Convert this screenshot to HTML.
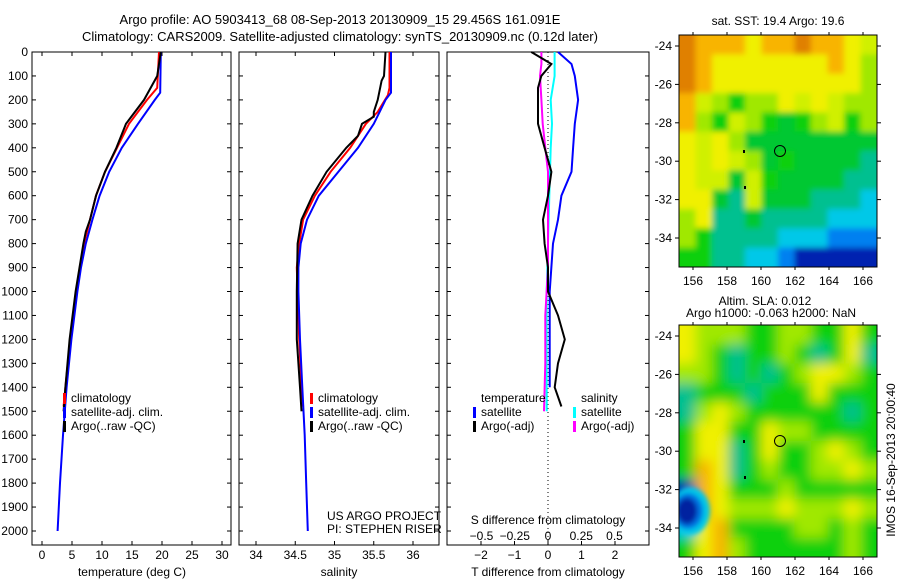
<!DOCTYPE html>
<html><head><meta charset="utf-8"><style>
body{margin:0;background:#fff;}
svg{display:block;font-family:"Liberation Sans",sans-serif;font-size:12px;}
</style></head><body>
<svg id="chart" width="900" height="580" viewBox="0 0 900 580">
<text x="340" y="24" text-anchor="middle" font-size="13">Argo profile: AO 5903413_68 08-Sep-2013 20130909_15 29.456S 161.091E</text>
<text x="340" y="41" text-anchor="middle" font-size="13">Climatology: CARS2009. Satellite-adjusted climatology: synTS_20130909.nc (0.12d later)</text>
<g id="g"></g>
</svg>
<script>
// ---- data ----
const depthTicks=[0,100,200,300,400,500,600,700,800,900,1000,1100,1200,1300,1400,1500,1600,1700,1800,1900,2000];
const tempTicks=[0,5,10,15,20,25,30];
const salTicks=[34,34.5,35,35.5,36];
const tdTicks=[-2,-1,0,1,2];
const sdTicks=[-0.5,-0.25,0,0.25,0.5];
const sdTickLabels=["-0.5","-0.25","0","0.25","0.5"];
const tClimD=[0,100,150,200,300,400,500,600,700,800,900,1000,1100,1200,1300,1400,1480];
const tClimV=[19.5,19.3,19.2,17.5,14.5,12.5,10.5,9,8,7,6.3,5.8,5.3,4.8,4.3,3.9,3.6];
const tSatD=[0,170,200,300,400,500,600,700,800,900,1000,1200,1400,1600,1800,2000];
const tSatV=[19.8,19.7,18.8,16,13.3,11.2,9.6,8.4,7.3,6.5,5.9,4.9,4.1,3.5,3.0,2.6];
const tArgoD=[0,100,200,300,400,500,600,700,750,800,1000,1200,1400,1500];
const tArgoV=[19.8,19.2,17,14,12.4,10.5,9,8,7.3,6.9,5.6,4.6,3.9,3.6];
const sClimD=[0,150,180,250,300,400,500,600,700,800,900,1000,1200,1400,1480];
const sClimV=[35.7,35.7,35.68,35.55,35.4,35.2,34.95,34.75,34.6,34.55,34.52,34.53,34.55,34.58,34.6];
const sSatD=[0,170,200,300,400,500,600,700,800,900,1000,1200,1400,1600,1800,2000];
const sSatV=[35.72,35.72,35.65,35.5,35.3,35.05,34.8,34.65,34.57,34.54,34.54,34.56,34.59,34.62,34.64,34.66];
const sArgoD=[0,100,120,200,250,270,300,350,400,500,600,700,800,1000,1200,1400,1500];
const sArgoV=[35.65,35.63,35.6,35.55,35.5,35.5,35.35,35.3,35.15,34.9,34.72,34.58,34.53,34.52,34.52,34.56,34.58];
const dTSatD=[0,50,100,200,300,400,500,600,700,800,1000,1400];
const dTSatV=[0.3,0.7,0.8,0.9,0.8,0.75,0.7,0.4,0.3,0.15,0.05,0.05];
const dTArgoD=[0,50,100,150,200,300,400,500,600,700,800,900,1000,1100,1200,1300,1400,1480];
const dTArgoV=[-0.5,0.1,-0.2,-0.3,-0.3,-0.3,-0.1,0.1,0,-0.15,-0.1,0,0,0.3,0.5,0.3,0.2,0.4];
const dSSatD=[0,100,200,300,400,600,800,1000,1500];
const dSSatV=[0.05,0.05,0.02,0.03,0.02,0.01,0,-0.01,-0.01];
const dSArgoD=[0,50,100,200,300,400,500,700,900,1100,1300,1500];
const dSArgoV=[-0.05,-0.05,-0.06,-0.05,-0.04,-0.02,0,0,0,-0.02,-0.02,-0.03];
const lonTicks=[156,158,160,162,164,166];
const latTicks=[-24,-26,-28,-30,-32,-34];
const sstGrid=["OoooYooOooYy","OoYYYYYYYoYL","OoYYYYYYYYYL","oyLGLLYyYyLL","oLGyLGgGLyGL","YyYLgggggggg","YyYyLgGggggT","YyygyGggggTT","YYgTygggTTTC","LYTTgTTTTCCC","LGTTTTCCCBBB","GGTTCCBDDDDD"];
const slaGrid=["YLLLGGLLGGYG","YLGTGGLGTGYT","LLGTGTGLYYLG","TGGGTGGGYGGG","TLYLGGGGGGTG","GYYGGYLLGGGG","GYYTGYGGLYLG","GoYTGLGGLLYL","DoYGGGLGGGGG","DoYLLLYLLLYL","CYoGGGGLLGLG","GYoLGGGGGGLG"];
// ---- helpers ----
const NS="http://www.w3.org/2000/svg",G=document.getElementById('g');
function mk(t,a,p){const e=document.createElementNS(NS,t);for(const k in a)e.setAttribute(k,a[k]);(p||G).appendChild(e);return e;}
const yD=d=>52+d*0.2395;
const xT=v=>42+v*6, xS=v=>256+(v-34)*78.5, xDT=v=>548+v*33.5, xDS=v=>548+v*133;
const panels=[[32,231],[239,439],[447,649]];
panels.forEach((p,i)=>{const r=mk('rect',{x:p[0],y:52,width:p[1]-p[0],height:493,fill:'none',stroke:'#000'});

depthTicks.forEach(d=>{mk('line',{x1:p[0],x2:p[0]+4,y1:yD(d),y2:yD(d),stroke:'#000'});mk('line',{x1:p[1],x2:p[1]-4,y1:yD(d),y2:yD(d),stroke:'#000'});});});
depthTicks.forEach(d=>{const t=mk('text',{x:28,y:yD(d)+4,'text-anchor':'end'});t.textContent=d;
});
function xax(ticks,f,labels,y,top){ticks.forEach((v,i)=>{const x=f(v);mk('line',{x1:x,x2:x,y1:545,y2:541,stroke:'#000'});if(top)mk('line',{x1:x,x2:x,y1:52,y2:56,stroke:'#000'});
const t=mk('text',{x:x,y:y,'text-anchor':'middle'});t.textContent=labels?labels[i]:String(v).replace('-','\u2212');
});}
xax(tempTicks,xT,null,559,true);xax(salTicks,xS,null,559,true);xax(tdTicks,xDT,null,559,false);
sdTicks.forEach((v,i)=>{const t=mk('text',{x:xDS(v),y:540,'text-anchor':'middle'});t.textContent=sdTickLabels[i].replace('-','\u2212');
});
[[132,'temperature (deg C)','temperature-axis-title'],[339,'salinity','salinity-axis-title'],[548,'T difference from climatology','t-diff-axis-title']].forEach(a=>{const t=mk('text',{x:a[0],y:576,'text-anchor':'middle'});t.textContent=a[1];});
mk('line',{x1:548,x2:548,y1:52,y2:545,stroke:'#000','stroke-dasharray':'1,3'});
function line(D,V,f,c,name){const pts=D.map((d,i)=>f(V[i]).toFixed(1)+','+yD(d).toFixed(1)).join(' ');
const e=mk('polyline',{points:pts,fill:'none',stroke:c,'stroke-width':2});}
line(tClimD,tClimV,xT,'#f00','temp-climatology');line(tSatD,tSatV,xT,'#00f','temp-satellite');line(tArgoD,tArgoV,xT,'#000','temp-argo');
line(sClimD,sClimV,xS,'#f00','sal-climatology');line(sSatD,sSatV,xS,'#00f','sal-satellite');line(sArgoD,sArgoV,xS,'#000','sal-argo');
line(dSSatD,dSSatV,xDS,'#0ff','sdiff-satellite');line(dSArgoD,dSArgoV,xDS,'#f0f','sdiff-argo');
line(dTSatD,dTSatV,xDT,'#00f','tdiff-satellite');line(dTArgoD,dTArgoV,xDT,'#000','tdiff-argo');
function leg(x,y,c,txt){if(c)mk('rect',{x:x,y:y-9,width:3,height:11,fill:c});const t=mk('text',{x:x+8,y:y});t.textContent=txt;
}
[[63,'#f00','climatology',402],[63,'#00f','satellite-adj. clim.',416],[63,'#000','Argo(..raw -QC)',430]].forEach(a=>{leg(a[0],a[3],a[1],a[2]);leg(a[0]+247,a[3],a[1],a[2]);});
leg(473,402,null,'temperature');leg(473,416,'#00f','satellite');leg(473,430,'#000','Argo(-adj)');
leg(573,402,null,'salinity');leg(573,416,'#0ff','satellite');leg(573,430,'#f0f','Argo(-adj)');
[['US ARGO PROJECT',520],['PI: STEPHEN RISER',533]].forEach(a=>{const t=mk('text',{x:327,y:a[1]});t.textContent=a[0];});
{const t=mk('text',{x:548,y:524,'text-anchor':'middle'});t.textContent='S difference from climatology';}
// ---- maps ----
const pal={O:'#e08000',o:'#f8b400',Y:'#f0f000',y:'#d0f000',L:'#a0e800',G:'#10d010',g:'#00c830',T:'#00c090',C:'#00c8e8',B:'#0080f0',D:'#0020b0'};
mk('defs',{}).innerHTML='<filter id="bl" x="-0.2" y="-0.2" width="1.4" height="1.4"><feGaussianBlur stdDeviation="6"/></filter><filter id="bl2" x="-0.2" y="-0.2" width="1.4" height="1.4"><feGaussianBlur stdDeviation="3"/></filter><filter id="bl3" x="-0.5" y="-0.5" width="2" height="2"><feGaussianBlur stdDeviation="2.5"/></filter><clipPath id="c1"><rect x="679" y="35" width="198" height="232"/></clipPath><clipPath id="c2"><rect x="679" y="325" width="198" height="232"/></clipPath>';
function map(grid,y0,filt,name,clip){const g=mk('g',{'clip-path':'url(#'+clip+')'});
const inner=mk('g',{filter:'url(#'+filt+')'},g);const cw=198/12,ch=232/12,pad=14;
grid.forEach((row,r)=>row.split('').forEach((c,k)=>{let x=679+k*cw,y=y0+r*ch,w=cw+1,h=ch+1;
if(k==0){x-=pad;w+=pad;} if(k==11)w+=pad; if(r==0){y-=pad;h+=pad;} if(r==11)h+=pad;
mk('rect',{x:x,y:y,width:w,height:h,fill:pal[c]},inner);}));
return g;}
function mapFrame(y0){mk('rect',{x:679,y:y0,width:198,height:232,fill:'none',stroke:'#000'});
lonTicks.forEach(l=>{const x=693+(l-156)*17;mk('line',{x1:x,x2:x,y1:y0,y2:y0-3,stroke:'#000'});mk('line',{x1:x,x2:x,y1:y0+232,y2:y0+235,stroke:'#000'});
const t=mk('text',{x:x,y:y0+250,'text-anchor':'middle'});t.textContent=l;});
latTicks.forEach(l=>{const y=y0+11+(-24-l)*19.2;mk('line',{x1:679,x2:675,y1:y,y2:y,stroke:'#000'});mk('line',{x1:877,x2:881,y1:y,y2:y,stroke:'#000'});
const t=mk('text',{x:672,y:y+4,'text-anchor':'end'});t.textContent=String(l);});
mk('circle',{cx:780,cy:y0+116,r:5.5,fill:'none',stroke:'#000'});
mk('rect',{x:743,y:y0+115,width:2,height:3,fill:'#000'});mk('rect',{x:744,y:y0+151,width:2,height:3,fill:'#000'});}
map(sstGrid,35,'bl2','sst-map','c1');mapFrame(35);
const m2=map(slaGrid,325,'bl','sla-map','c2');
const blob=mk('g',{filter:'url(#bl3)'},m2);
mk('ellipse',{cx:690,cy:511,rx:20,ry:24,fill:'#00c8e8'},blob);
mk('ellipse',{cx:688,cy:511,rx:15,ry:18,fill:'#0070e0'},blob);
mk('ellipse',{cx:687,cy:511,rx:10,ry:13,fill:'#0020a0'},blob);
mapFrame(325);
[['sat. SST: 19.4  Argo: 19.6',778,25,'sst-map-title'],['Altim. SLA: 0.012',765,305,'sla-map-title'],['Argo h1000: -0.063 h2000: NaN',771,317,'sla-map-subtitle']].forEach(a=>{const t=mk('text',{x:a[1],y:a[2],'text-anchor':'middle'});t.textContent=a[0];});
{const t=mk('text',{x:0,y:0,'text-anchor':'middle',transform:'translate(895,460) rotate(-90)'});t.textContent='IMOS 16-Sep-2013 20:00:40';}
</script>
</body></html>
